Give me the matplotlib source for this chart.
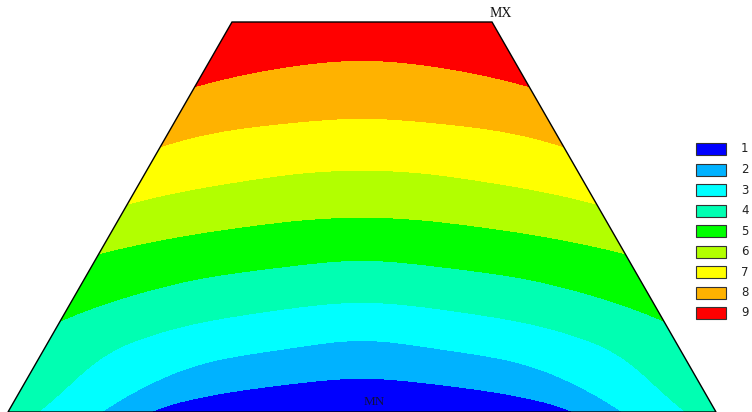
import numpy as np
import matplotlib
matplotlib.use("Agg")
import matplotlib.pyplot as plt
from matplotlib.patches import Polygon, Rectangle


# band labels (1 = bottom/min, 9 = top/max) and their colours
band_labels = ["1", "2", "3", "4", "5", "6", "7", "8", "9"]
band_colors = ["#0000ff", "#00b2ff", "#00ffff", "#00ffb2", "#00ff00",
               "#b2ff00", "#ffff00", "#ffb200", "#ff0000"]

# outline of the section (pixel coords, y down)
outline_x = [232, 492, 716, 8]
outline_y = [22, 22, 412, 412]
center_x = 362

# band boundaries: y position at a distance
# from the centre line (symmetric), top boundary (9|8) first
dist_from_center = [0, 62, 112, 162, 212, 262, 312, 362]
b_9_8 = [60, 65, 73, 85, 100, 118, 138, 160]
b_8_7 = [118, 122, 127, 135, 150, 165, 185, 208]
b_7_6 = [170, 173, 180, 188, 198, 212, 230, 250]
b_6_5 = [217, 220, 226, 233, 242, 253, 268, 285]
b_5_4 = [260, 265, 271, 278, 290, 305, 325, 350]
b_4_3 = [302, 307, 314, 322, 335, 355, 405, 440]
b_3_2 = [340, 347, 354, 363, 383, 412, 450, 490]
b_2_1 = [378, 383, 389, 397, 410, 440, 480, 520]
boundaries = [b_9_8, b_8_7, b_7_6, b_6_5, b_5_4, b_4_3, b_3_2, b_2_1]
boundary_vals = [8.5, 7.5, 6.5, 5.5, 4.5, 3.5, 2.5, 1.5]


xs = np.arange(0, 753)
ys = np.arange(0, 413)

# boundary curves over every column, then smoothed along x
d2_tab = np.square(dist_from_center)
d2 = (xs - center_x) ** 2
kernel = np.ones(61) / 61
curves = []
for b in boundaries:
    c = np.interp(d2, d2_tab, b)
    c = np.convolve(np.pad(c, 30, mode="edge"), kernel, mode="valid")
    curves.append(c)
curves = np.array(curves)

field = np.zeros((len(ys), len(xs)))
for j in range(len(xs)):
    field[:, j] = np.interp(ys, curves[:, j], boundary_vals, left=9.0, right=1.0)

X, Y = np.meshgrid(xs, ys)

fig = plt.figure(figsize=(7.52, 4.12), dpi=100)
ax = fig.add_axes([0, 0, 1, 1])
ax.set_xlim(0, 752)
ax.set_ylim(412, 0)
ax.axis("off")

shape = Polygon(list(zip(outline_x, outline_y)), closed=True,
                facecolor="none", edgecolor="none")
ax.add_patch(shape)

cs = ax.contourf(X, Y, field, levels=np.arange(0.5, 10, 1), colors=band_colors)
cs.set_clip_path(shape)

# black outline
ax.add_patch(Polygon(list(zip(outline_x, outline_y)), closed=True,
                     facecolor="none", edgecolor="black", lw=1.0, zorder=5))

# min / max markers
ax.text(501, 13, "MX", fontsize=10, family="Liberation Serif",
        ha="center", va="center", color="#111111")
ax.text(374, 402, "MN", fontsize=9.5, family="Liberation Serif",
        ha="center", va="center", color="#101040")

# legend
for i, (lab, col) in enumerate(zip(band_labels, band_colors)):
    yc = 149 + i * 20.5
    ax.add_patch(Rectangle((696, yc - 6), 30, 12, facecolor=col,
                           edgecolor="#333333", lw=0.8))
    ax.text(741, yc, lab, fontsize=8.5, family="DejaVu Sans",
            ha="left", va="center", color="#222222")

fig.savefig("out.png", dpi=100)
